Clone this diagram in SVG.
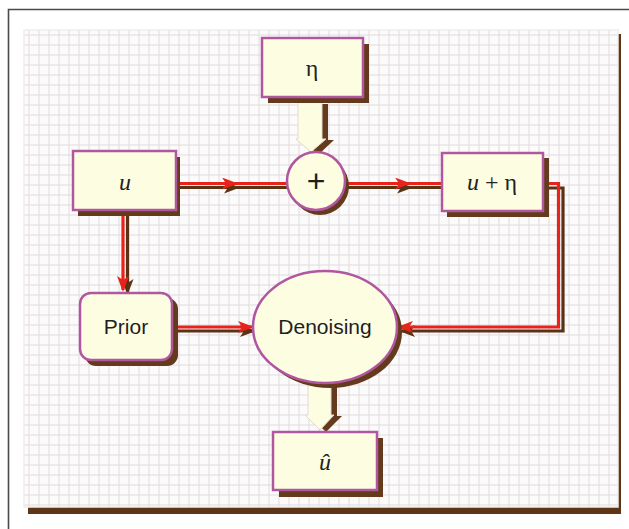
<svg xmlns="http://www.w3.org/2000/svg" width="629" height="529" viewBox="0 0 629 529">
<defs>
<pattern id="grid" x="24" y="30" width="10" height="10" patternUnits="userSpaceOnUse">
<rect width="10" height="10" fill="#fbfbfc"/>
<path d="M5 0V10M0 5H10" stroke="#e3dbdf" stroke-width="1"/>
</pattern>
<marker id="hr" viewBox="0 0 16 12" refX="14" refY="6" markerWidth="16" markerHeight="12" markerUnits="userSpaceOnUse" orient="auto">
<path d="M0 0L16 6L0 12L4 6Z" fill="#e8231c"/>
</marker>
<marker id="hb" viewBox="0 0 16 12" refX="14" refY="6" markerWidth="16" markerHeight="12" markerUnits="userSpaceOnUse" orient="auto">
<path d="M0 0L16 6L0 12L4 6Z" fill="#5a3315"/>
</marker>
</defs>
<style>
.box{fill:#fdfde2;stroke:#b0579f;stroke-width:2.5}
.sh{fill:#643a1c}
.red{fill:none;stroke:#e8231c;stroke-width:3.2}
.brn{fill:none;stroke:#5a3315;stroke-width:3.2}
.hol{fill:#fdfde2;stroke:#e2d8d0;stroke-width:1}
.ser{font-family:"Liberation Serif","DejaVu Serif",serif;font-size:24px;fill:#222;text-anchor:middle}
.san{font-family:"Liberation Sans",Arial,sans-serif;font-size:21px;fill:#1e1e1e;text-anchor:middle}
.plus{font-size:32px}
</style>
<!-- frame -->
<path d="M8.5 529V9.5H629" fill="none" stroke="#4a4a4a" stroke-width="1.6"/>
<!-- panel -->
<rect x="28" y="34" width="593" height="480" fill="#5e3516"/>
<rect x="24" y="30" width="594" height="477" fill="url(#grid)" stroke="#f0eee8" stroke-width="1.5"/>

<g id="connectors">
<!-- u to + -->
<path class="brn" d="M179 187.5H238H287" marker-mid="url(#hb)"/>
<path class="red" d="M176 183.5H236H287" marker-mid="url(#hr)"/>
<!-- + to u+eta -->
<path class="brn" d="M345 187.5H411H442" marker-mid="url(#hb)"/>
<path class="red" d="M345 183.5H409H442" marker-mid="url(#hr)"/>
<!-- u+eta to Denoising -->
<path class="brn" d="M548 188H563V331H401" marker-end="url(#hb)"/>
<path class="red" d="M543 183.5H558.5V327H399" marker-end="url(#hr)"/>
<!-- u to Prior -->
<path class="brn" d="M127.5 216V293" marker-end="url(#hb)"/>
<path class="red" d="M123 210V290" marker-end="url(#hr)"/>
<!-- Prior to Denoising -->
<path class="brn" d="M177 331H254" marker-end="url(#hb)"/>
<path class="red" d="M172 327H252" marker-end="url(#hr)"/>
<!-- eta to + hollow -->
<path class="sh" d="M321 104H328V140H334L318 155L313 150L321 140Z"/>
<path class="hol" d="M298 99H322V139H326L311 152L296 139H298Z"/>
<!-- Denoising to u-hat hollow -->
<path class="sh" d="M330 384H337V416H342L326 432L321 427L330 416Z"/>
<path class="hol" d="M308 383H331V415H334L320 430L305 415H308Z"/>
</g>

<g id="eta">
<rect class="sh" x="268" y="44" width="101" height="59"/>
<rect class="box" x="262" y="38" width="101" height="59"/>
<text class="ser" x="312" y="76">η</text>
</g>
<g id="u">
<rect class="sh" x="78" y="157" width="102" height="59"/>
<rect class="box" x="73" y="151" width="103" height="59"/>
<text class="ser" x="125" y="190" font-style="italic">u</text>
</g>
<g id="plus">
<circle class="sh" cx="320" cy="186" r="29"/>
<circle class="box" cx="316" cy="181" r="29"/>
<text class="san plus" x="316" y="192">+</text>
</g>
<g id="u_eta">
<rect class="sh" x="447" y="158" width="102" height="59"/>
<rect class="box" x="442" y="153" width="101" height="58"/>
<text class="ser" x="492" y="190"><tspan font-style="italic">u</tspan> + η</text>
</g>
<g id="prior">
<rect class="sh" x="85" y="298" width="93" height="68" rx="11"/>
<rect class="box" x="80" y="293" width="92" height="67" rx="11"/>
<text class="san" x="126" y="334">Prior</text>
</g>
<g id="denoising">
<ellipse class="sh" cx="330" cy="332" rx="72" ry="56"/>
<ellipse class="box" cx="325" cy="327" rx="72" ry="56"/>
<text class="san" x="325" y="334">Denoising</text>
</g>
<g id="uhat">
<rect class="sh" x="279" y="438" width="104" height="59"/>
<rect class="box" x="273" y="432" width="104" height="58"/>
<text class="ser" x="325" y="470" font-style="italic">û</text>
</g>
</svg>
